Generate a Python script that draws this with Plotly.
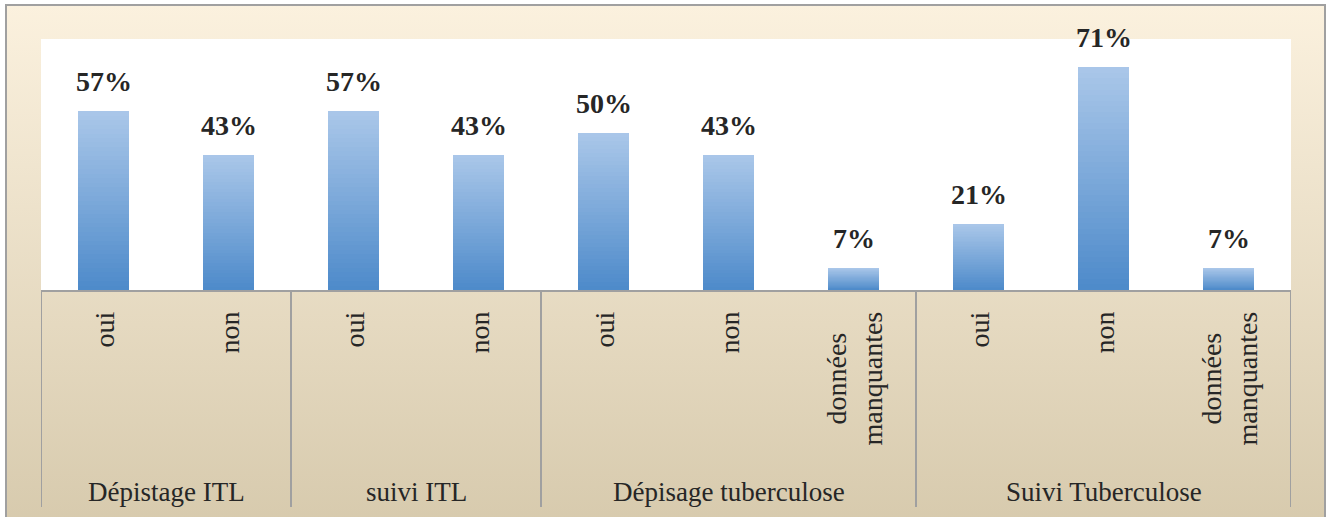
import base64
import plotly.graph_objects as go

# ---------------- data ----------------
groups = ["Dépistage ITL", "suivi ITL", "Dépisage tuberculose", "Suivi Tuberculose"]
group_items = [
    ["oui", "non"],
    ["oui", "non"],
    ["oui", "non", "données<br>manquantes"],
    ["oui", "non", "données<br>manquantes"],
]
values = [57, 43, 57, 43, 50, 43, 7, 21, 71, 7]
y_max = 80

# ---------------- layout constants (pixels) ----------------
W, H = 1330, 517
PL, PR, PT, PB = 41, 1291, 39, 290        # plot area
plot_w, plot_h = PR - PL, PB - PT

def px_x(px):
    return (px - PL) / plot_w

def px_y(py):
    return (PB - py) / plot_h

FONT = "Liberation Serif, Times New Roman, serif"
TXT = "#262626"
GRID = "#a0a0a0"

labels = [lab for items in group_items for lab in items]
xs = list(range(len(labels)))

fig = go.Figure()

# bars drawn as stacked overlay layers to imitate the vertical gradient
light = (170, 199, 233)
dark = (77, 138, 202)
N = 40
for k in range(N, 0, -1):
    f = k / N
    t = f - 0.5 / N
    c = tuple(round(dark[i] + (light[i] - dark[i]) * t) for i in range(3))
    fig.add_trace(go.Bar(
        x=xs, y=[v * f for v in values],
        width=0.41,
        marker=dict(color="rgb(%d,%d,%d)" % c, line=dict(width=0)),
        hoverinfo="skip" if k != N else "y",
        showlegend=False,
    ))

# value labels
for x, v in zip(xs, values):
    fig.add_annotation(x=x, y=v, xref="x", yref="y", text=f"<b>{v}%</b>",
                       showarrow=False, yanchor="bottom", yshift=12,
                       font=dict(family=FONT, size=28, color=TXT))

# inner category labels (rotated)
for x, lab in zip(xs, labels):
    fig.add_annotation(x=x, y=px_y(310), xref="x", yref="paper", text=lab,
                       showarrow=False, textangle=-90, yanchor="top",
                       xanchor="center", align="center",
                       font=dict(family=FONT, size=28, color=TXT))

# group labels and dividers
start = 0
bounds = [-0.5]
for g, items in zip(groups, group_items):
    n = len(items)
    center = start + (n - 1) / 2
    fig.add_annotation(x=center, y=px_y(492), xref="x", yref="paper", text=g,
                       showarrow=False, yanchor="middle",
                       font=dict(family=FONT, size=27, color=TXT))
    start += n
    bounds.append(start - 0.5)

for b in bounds:
    fig.add_shape(type="line", xref="x", yref="paper", x0=b, x1=b,
                  y0=0, y1=px_y(507), line=dict(color=GRID, width=2))

# background gradient (chart area) and border
svg = ('<svg xmlns="http://www.w3.org/2000/svg" width="100" height="100" '
       'preserveAspectRatio="none"><defs><linearGradient id="g" x1="0" y1="0" '
       'x2="0" y2="1"><stop offset="0" stop-color="#fbf1de"/>'
       '<stop offset="1" stop-color="#d7caad"/></linearGradient></defs>'
       '<rect width="100" height="100" fill="url(#g)"/></svg>')
src = "data:image/svg+xml;base64," + base64.b64encode(svg.encode()).decode()
fig.add_layout_image(source=src, xref="paper", yref="paper",
                     x=px_x(6), y=px_y(5), sizex=(1325 - 6) / plot_w,
                     sizey=(H + 10 - 5) / plot_h, sizing="stretch",
                     xanchor="left", yanchor="top", layer="below")
fig.add_shape(type="rect", xref="paper", yref="paper", x0=0, x1=1, y0=0, y1=1,
              fillcolor="white", line=dict(width=0), layer="below")
fig.add_shape(type="rect", xref="paper", yref="paper",
              x0=px_x(6), x1=px_x(1325), y0=px_y(H + 10), y1=px_y(5),
              line=dict(color=GRID, width=2), fillcolor="rgba(0,0,0,0)")

fig.update_layout(
    width=W, height=H,
    margin=dict(l=PL, r=W - PR, t=PT, b=H - PB, pad=0),
    paper_bgcolor="white", plot_bgcolor="rgba(0,0,0,0)",
    barmode="overlay", bargap=0,
    showlegend=False,
    xaxis=dict(range=[-0.5, len(labels) - 0.5], showticklabels=False,
               ticks="", showgrid=False, zeroline=False, showline=True,
               linecolor=GRID, linewidth=2, fixedrange=True),
    yaxis=dict(range=[0, y_max], visible=False, fixedrange=True),
)

fig.write_html("out.html", config={"displayModeBar": False},
               post_script="document.body.style.margin='0';"
                           "document.body.style.overflow='hidden';")
